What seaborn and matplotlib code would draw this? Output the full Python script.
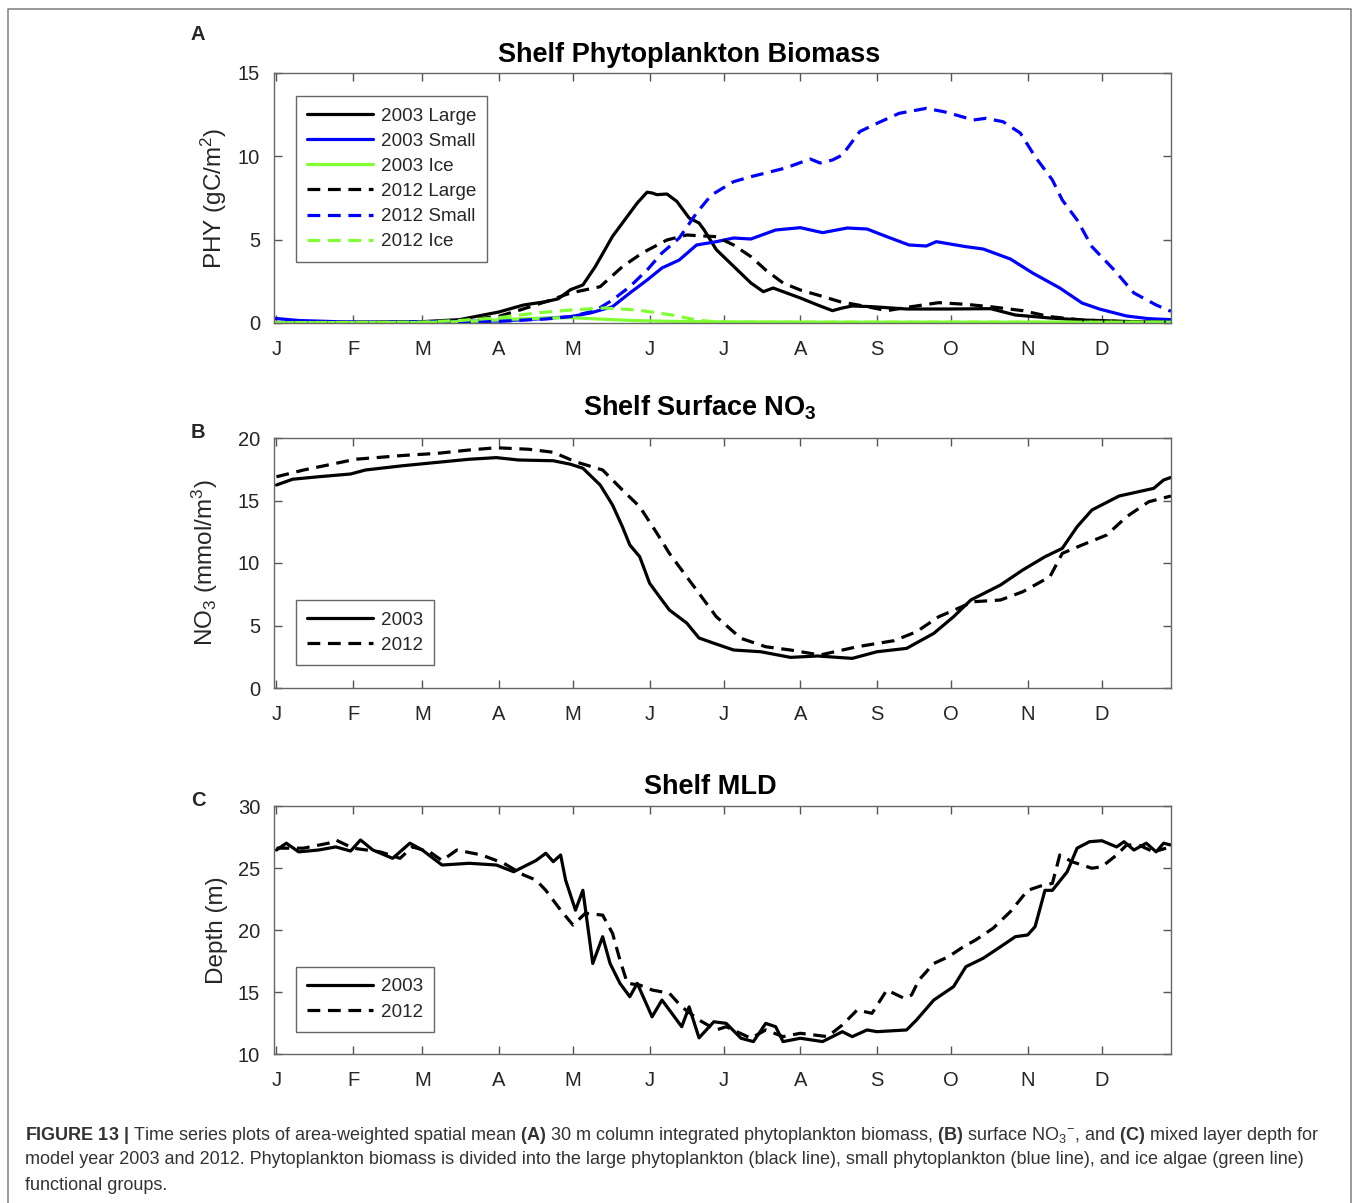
import numpy as np
import pandas as pd
import seaborn as sns
import matplotlib.pyplot as plt
from matplotlib.lines import Line2D

# ---- data (day of year, value) ----
month_ticks = [1, 32, 60, 91, 121, 152, 182, 213, 244, 274, 305, 335]
month_labels = ['J', 'F', 'M', 'A', 'M', 'J', 'J', 'A', 'S', 'O', 'N', 'D']

# panel A: phytoplankton biomass (gC/m2)
large03_d = [0, 30, 60, 75, 91, 101, 110, 115, 120, 125, 130, 137, 143, 147, 151, 153, 155, 159, 163, 168, 172,
             174, 179, 186, 193, 198, 202, 213, 220, 226, 230, 234, 242, 256, 273, 290, 300, 314, 327, 348, 363]
large03_v = [0.03, 0.03, 0.08, 0.2, 0.66, 1.08, 1.28, 1.45, 2.0, 2.28, 3.38, 5.2, 6.4, 7.2, 7.85, 7.8, 7.7, 7.74,
             7.3, 6.3, 6.0, 5.6, 4.4, 3.4, 2.4, 1.88, 2.1, 1.5, 1.08, 0.74, 0.9, 1.02, 0.98, 0.84, 0.84, 0.86, 0.48,
             0.3, 0.18, 0.08, 0.05]
small03_d = [0, 10, 25, 40, 60, 75, 91, 106, 120, 128, 137, 144, 151, 157, 164, 171, 179, 186, 193, 203, 213, 222,
             232, 240, 248, 257, 264, 268, 280, 287, 298, 307, 318, 327, 334, 345, 354, 363]
small03_v = [0.28, 0.15, 0.08, 0.05, 0.08, 0.1, 0.12, 0.24, 0.38, 0.6, 0.98, 1.8, 2.58, 3.3, 3.78, 4.68, 4.88, 5.1,
             5.04, 5.58, 5.72, 5.42, 5.7, 5.64, 5.18, 4.68, 4.62, 4.88, 4.58, 4.44, 3.84, 3.0, 2.1, 1.2, 0.84, 0.42,
             0.26, 0.2]
ice03_d = [0, 60, 80, 95, 110, 120, 130, 145, 160, 180, 220, 363]
ice03_v = [0.02, 0.03, 0.1, 0.22, 0.3, 0.32, 0.25, 0.15, 0.1, 0.07, 0.05, 0.05]
large12_d = [0, 60, 80, 91, 100, 110, 120, 132, 141, 149, 159, 167, 174, 179, 186, 193, 199, 206, 213, 220, 229,
             240, 248, 258, 269, 280, 291, 303, 314, 327, 348, 363]
large12_v = [0.02, 0.05, 0.2, 0.4, 0.8, 1.28, 1.8, 2.18, 3.38, 4.2, 4.98, 5.28, 5.22, 5.18, 4.68, 3.98, 3.18, 2.4,
             1.98, 1.68, 1.28, 0.98, 0.74, 0.98, 1.22, 1.12, 0.96, 0.74, 0.38, 0.18, 0.05, 0.05]
small12_d = [0, 60, 91, 110, 120, 130, 137, 144, 151, 157, 164, 171, 177, 186, 193, 199, 207, 217, 221, 226, 230,
             234, 237, 244, 253, 264, 271, 276, 283, 288, 295, 302, 308, 315, 319, 325, 331, 340, 348, 357, 363]
small12_v = [0.02, 0.03, 0.1, 0.24, 0.38, 0.74, 1.38, 2.18, 3.18, 4.2, 5.1, 6.6, 7.68, 8.48, 8.78, 9.0, 9.3, 9.84,
             9.6, 9.78, 10.08, 10.88, 11.48, 11.98, 12.58, 12.88, 12.68, 12.48, 12.18, 12.28, 12.08, 11.4, 9.98,
             8.58, 7.38, 6.18, 4.58, 3.18, 1.8, 1.08, 0.7]
ice12_d = [0, 60, 75, 90, 106, 120, 134, 147, 161, 171, 180, 363]
ice12_v = [0.02, 0.05, 0.15, 0.3, 0.6, 0.78, 0.9, 0.78, 0.48, 0.18, 0.05, 0.05]

# panel B: surface NO3 (mmol/m3)
no3_03_d = [1, 7.5, 18, 31, 37, 52, 66, 79, 90, 99, 113, 120, 125, 132, 137, 141, 144, 148, 152, 156, 160, 167,
            172, 178, 186, 197, 209, 220, 234, 244, 256, 267, 275, 282, 294, 303, 312, 319, 325, 331, 342, 356,
            360, 363]
no3_03_v = [16.24, 16.7, 16.9, 17.12, 17.44, 17.78, 18.05, 18.3, 18.43, 18.24, 18.18, 17.9, 17.58, 16.24, 14.64,
            12.9, 11.44, 10.5, 8.38, 7.3, 6.24, 5.2, 4.0, 3.58, 3.04, 2.9, 2.45, 2.56, 2.37, 2.9, 3.17, 4.37, 5.7,
            7.04, 8.24, 9.44, 10.5, 11.17, 12.9, 14.24, 15.36, 15.97, 16.64, 16.85]
no3_12_d = [1, 12, 25, 33, 52, 66, 79, 90, 103, 113, 122, 133, 141, 148, 155, 160, 167, 172, 179, 189, 199, 209,
            221, 236, 251, 260, 269, 283, 294, 303, 314, 319, 327, 337, 345, 354, 363]
no3_12_v = [16.9, 17.44, 17.97, 18.3, 18.6, 18.77, 19.04, 19.22, 19.1, 18.86, 18.1, 17.44, 15.84, 14.5, 12.37,
            10.77, 8.9, 7.57, 5.7, 3.97, 3.3, 3.04, 2.64, 3.3, 3.79, 4.5, 5.7, 6.9, 7.04, 7.7, 8.9, 10.77, 11.44,
            12.24, 13.7, 14.9, 15.36]

# panel C: mixed layer depth (m)
mld03_d = [1, 5, 10, 18, 25, 31, 35, 40, 48, 55, 60, 68, 79, 90, 97, 101, 106, 110, 113, 116, 118, 122, 125, 129,
           133, 136, 140, 144, 147, 153, 157, 161, 165, 168, 172, 178, 183, 189, 194, 199, 203, 206, 213, 222, 230,
           234, 240, 244, 256, 260, 267, 275, 280, 287, 294, 300, 305, 308, 312, 315, 321, 325, 330, 335, 341, 344,
           348, 353, 357, 360, 363]
mld03_v = [26.45, 27.0, 26.3, 26.45, 26.7, 26.37, 27.26, 26.45, 25.78, 27.0, 26.45, 25.24, 25.38, 25.24, 24.7,
           25.1, 25.6, 26.19, 25.51, 26.05, 24.03, 21.6, 23.2, 17.3, 19.46, 17.3, 15.7, 14.62, 15.7, 13.0, 14.35,
           13.28, 12.2, 13.8, 11.3, 12.6, 12.47, 11.27, 11.0, 12.47, 12.2, 11.0, 11.27, 11.0, 11.8, 11.4, 11.94,
           11.8, 11.94, 12.74, 14.35, 15.43, 17.04, 17.72, 18.65, 19.46, 19.6, 20.27, 23.2, 23.2, 24.7, 26.6,
           27.12, 27.2, 26.7, 27.12, 26.45, 27.0, 26.3, 27.0, 26.85]
mld12_d = [1, 12, 22, 25, 32, 43, 51, 56, 63, 68, 74, 84, 93, 101, 106, 110, 116, 121, 126, 133, 137, 140, 143,
           148, 153, 160, 165, 172, 179, 183, 193, 199, 206, 213, 224, 230, 236, 242, 248, 255, 258, 261, 267, 273,
           279, 284, 291, 298, 305, 311, 315, 318, 323, 331, 335, 341, 345, 350, 356, 361]
mld12_v = [26.6, 26.6, 27.0, 27.26, 26.6, 26.3, 25.78, 26.7, 26.3, 25.6, 26.45, 26.05, 25.38, 24.44, 24.03, 23.2,
           21.6, 20.4, 21.35, 21.2, 19.73, 17.58, 15.7, 15.56, 15.16, 14.9, 13.8, 12.74, 11.94, 12.2, 11.27, 11.94,
           11.4, 11.67, 11.4, 12.34, 13.55, 13.28, 15.16, 14.49, 14.76, 15.97, 17.3, 17.85, 18.65, 19.2, 20.14,
           21.48, 23.2, 23.6, 23.76, 26.05, 25.5, 24.98, 25.1, 26.05, 26.85, 26.85, 26.3, 26.6]

caption_lines = [
    r'$\mathbf{FIGURE\ 13\ |}$ Time series plots of area-weighted spatial mean $\mathbf{(A)}$ 30 m column integrated '
    r'phytoplankton biomass, $\mathbf{(B)}$ surface NO$_3{}^{-}$, and $\mathbf{(C)}$ mixed layer depth for',
    'model year 2003 and 2012. Phytoplankton biomass is divided into the large phytoplankton (black line), '
    'small phytoplankton (blue line), and ice algae (green line)',
    'functional groups.',
]

# ---- style ----
sns.set_theme(style='ticks')
plt.rcParams['font.family'] = ['Liberation Sans', 'DejaVu Sans']
plt.rcParams['mathtext.fontset'] = 'custom'
plt.rcParams['mathtext.rm'] = 'Liberation Sans'
plt.rcParams['mathtext.bf'] = 'Liberation Sans:bold'
plt.rcParams['mathtext.it'] = 'Liberation Sans:italic'

GREEN = '#80ff33'
BLUE = '#0000ff'
DASH = (0, (4, 2.4))
LW = 2.3

W, H = 1357, 1203
fig = plt.figure(figsize=(W / 100, H / 100), dpi=100)


def px_axes(left, top, right, bottom):
    return fig.add_axes([left / W, 1 - bottom / H, (right - left) / W, (bottom - top) / H])


axA = px_axes(274, 73, 1171, 323)
axB = px_axes(274, 438, 1171, 688)
axC = px_axes(274, 806, 1171, 1054)


def draw(ax, d, v, color, ls, label):
    sns.lineplot(x=d, y=v, ax=ax, color=color, lw=LW, linestyle=ls, label=label)


draw(axA, large03_d, large03_v, 'black', '-', '2003 Large')
draw(axA, small03_d, small03_v, BLUE, '-', '2003 Small')
draw(axA, ice03_d, ice03_v, GREEN, '-', '2003 Ice')
draw(axA, large12_d, large12_v, 'black', DASH, '2012 Large')
draw(axA, small12_d, small12_v, BLUE, DASH, '2012 Small')
draw(axA, ice12_d, ice12_v, GREEN, DASH, '2012 Ice')

draw(axB, no3_03_d, no3_03_v, 'black', '-', '2003')
draw(axB, no3_12_d, no3_12_v, 'black', DASH, '2012')

draw(axC, mld03_d, mld03_v, 'black', '-', '2003')
draw(axC, mld12_d, mld12_v, 'black', DASH, '2012')

panels = [
    (axA, (0, 15), [0, 5, 10, 15], r'PHY (gC/m$^2$)', 'Shelf Phytoplankton Biomass', 0.4627, 1.045,
     (0.0245, 0.908), 'upper left', 'A', 35, -0.050),
    (axB, (0, 20), [0, 5, 10, 15, 20], r'NO$_3$ (mmol/m$^3$)', r'Shelf Surface NO$_\mathbf{3}$', 0.475, 1.092,
     (0.0245, 0.092), 'lower left', 'B', 432, -0.060),
    (axC, (10, 30), [10, 15, 20, 25, 30], 'Depth (m)', 'Shelf MLD', 0.486, 1.048,
     (0.0245, 0.089), 'lower left', 'C', 800, -0.051),
]

for ax, ylim, yt, ylab, title, tx, ty, lb, lloc, letter, ly, labx in panels:
    ax.set_xlim(0, 363)
    ax.set_ylim(*ylim)
    ax.set_xticks(month_ticks)
    ax.set_xticklabels(month_labels)
    ax.set_yticks(yt)
    ax.tick_params(direction='in', top=True, right=True, length=6, width=1, color='#555555',
                   labelsize=14.5, labelcolor='#262626')
    ax.tick_params(axis='x', pad=12)
    ax.tick_params(axis='y', pad=10)
    for sp in ax.spines.values():
        sp.set_color('#666666')
        sp.set_linewidth(1.0)
    ax.set_xlabel('')
    ax.set_ylabel(ylab, fontsize=17.5, color='#262626')
    ax.yaxis.set_label_coords(labx, 0.5)
    ax.text(tx, ty, title, transform=ax.transAxes, ha='center', va='baseline',
            fontsize=19.5, fontweight='bold', color='black')
    leg = ax.legend(loc=lloc, bbox_to_anchor=lb, borderaxespad=0, fontsize=13.6, handlelength=3.5,
                    handletextpad=0.38, borderpad=0.6, labelspacing=0.42, fancybox=False, framealpha=1,
                    edgecolor='#666666')
    leg.get_frame().set_linewidth(1.0)
    fig.text(198 / W, 1 - ly / H, letter, ha='center', va='center', fontsize=14.5, fontweight='bold')

# outer frame of the figure panel
fig.add_artist(Line2D([8 / W, 8 / W, 1351 / W, 1351 / W], [0, 1 - 9 / H, 1 - 9 / H, 0],
                      color='#888888', lw=1.2, transform=fig.transFigure))

for i, line in enumerate(caption_lines):
    fig.text(25 / W, 1 - (1135 + 25 * i) / H, line, ha='left', va='center', fontsize=13.0, color='#333333')

fig.savefig('out.png', dpi=100)
